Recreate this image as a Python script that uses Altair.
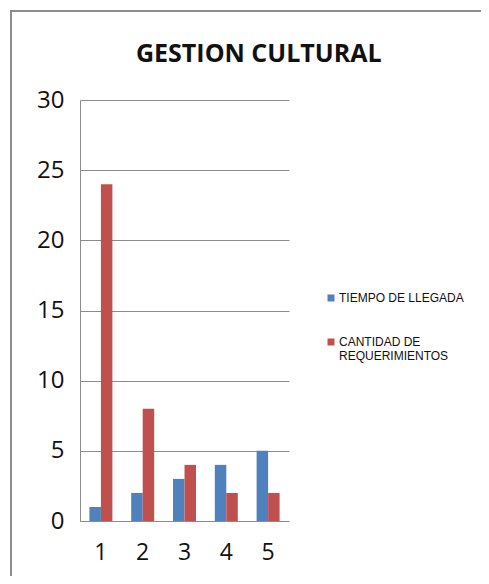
import altair as alt
import pandas as pd

categories = ["1", "2", "3", "4", "5"]
series_names = ["TIEMPO DE LLEGADA", "CANTIDAD DE REQUERIMIENTOS"]
tiempo = [1, 2, 3, 4, 5]
cantidad = [24, 8, 4, 2, 2]
colors = ["#4F81BD", "#C0504D"]

rows = []
for c, t, q in zip(categories, tiempo, cantidad):
    rows.append({"cat": c, "serie": series_names[0], "valor": t})
    rows.append({"cat": c, "serie": series_names[1], "valor": q})
df = pd.DataFrame(rows)

frame = alt.Chart(pd.DataFrame({"a": [0]})).mark_rect(
    fill="white", fillOpacity=0, stroke="#8c8c8c", strokeWidth=2
).encode(
    x=alt.value(-69), x2=alt.value(420), y=alt.value(-89), y2=alt.value(490)
)

bars = alt.Chart(df).mark_bar().encode(
    x=alt.X("cat:N", sort=categories, title=None,
            scale=alt.Scale(paddingInner=0.45, paddingOuter=0.225),
            axis=alt.Axis(labelAngle=0, ticks=False, labelPadding=20,
                          labelFontSize=23, labelFont="Open Sans",
                          labelColor="#111", domainColor="#8c8c8c")),
    xOffset=alt.XOffset("serie:N", sort=series_names),
    y=alt.Y("valor:Q", title=None,
            scale=alt.Scale(domain=[0, 30], nice=False),
            axis=alt.Axis(values=[0, 5, 10, 15, 20, 25, 30], ticks=False,
                          labelPadding=16, labelFontSize=24, labelFont="Open Sans",
                          labelColor="#111", domainColor="#8c8c8c",
                          gridColor="#8c8c8c", gridWidth=1)),
    color=alt.Color("serie:N", sort=series_names,
                    scale=alt.Scale(domain=series_names, range=colors),
                    legend=alt.Legend(
                        title=None, orient="none", legendX=245, legendY=192,
                        symbolType="square", symbolSize=49, symbolStrokeWidth=0,
                        labelFont="Liberation Sans", labelFontSize=12,
                        labelColor="#111", labelOffset=2, rowPadding=32,
                        labelLimit=220,
                        labelExpr="datum.label == 'CANTIDAD DE REQUERIMIENTOS' ? ['CANTIDAD DE', 'REQUERIMIENTOS'] : datum.label"
                    )),
)

chart = alt.layer(frame, bars).properties(
    width=209, height=421,
    title=alt.TitleParams("GESTION CULTURAL", anchor="start", dx=126, dy=83, offset=26,
                          font="Open Sans", fontSize=25, fontWeight="bold",
                          color="#111"),
    autosize=alt.AutoSizeParams(type="none"),
    padding={"left": 72, "top": 92, "right": 192, "bottom": 55},
).configure_view(stroke=None)

chart.save("out.html", embed_options={"renderer": "svg", "actions": False})
